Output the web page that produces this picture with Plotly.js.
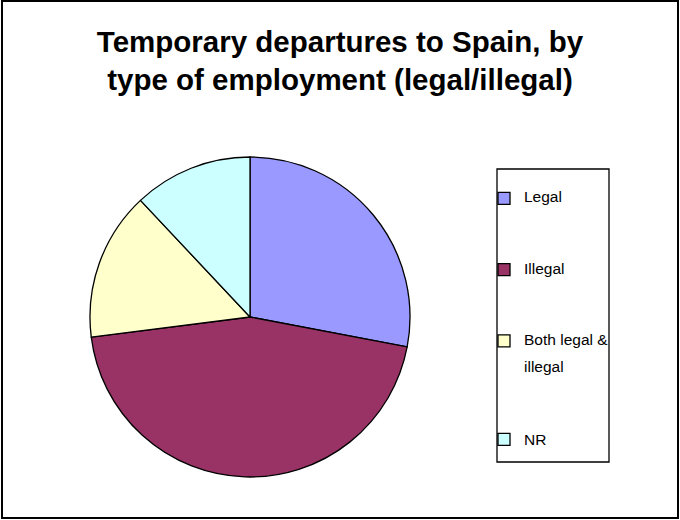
<!DOCTYPE html>
<html>
<head>
<meta charset="utf-8">
<script src="https://cdn.plot.ly/plotly-3.0.1.min.js"></script>
<style>html,body{margin:0;padding:0;background:#fff}#chart{width:680px;height:520px}</style>
</head>
<body>
<div id="chart"></div>
<script>
// Data (percent of respondents)
var categories = ['Legal', 'Illegal', 'Both legal & illegal', 'NR'];
var values = [28, 45, 15, 12];
var colors = ['#9999FF', '#993366', '#FFFFCC', '#CCFFFF'];
var legendLines = [['Legal'], ['Illegal'], ['Both legal &amp;', 'illegal'], ['NR']];

var W = 680, H = 520;
var NBSP = '\u00a0';
var TXT = 15.5;            // visible legend text size (px)
// legend entries are spaced with blank half-lines to match the reference spacing
function legendLabel(lines, isLast) {
  var parts = [];
  lines.forEach(function (ln, i) {
    if (i > 0) parts.push(NBSP);
    parts.push('<span style="font-size:' + TXT + 'px">' + ln + '</span>');
  });
  if (!isLast) { for (var k = 0; k < 4; k++) parts.push(NBSP); }
  return parts.join('<br>');
}
var shownLabels = legendLines.map(function (l, i) { return legendLabel(l, i === legendLines.length - 1); });

var trace = {
  type: 'pie',
  labels: shownLabels,
  values: values,
  sort: false,
  direction: 'clockwise',
  rotation: 0,
  textinfo: 'none',
  hoverinfo: 'skip',
  marker: {colors: colors, line: {color: '#000000', width: 1.3}},
  domain: {x: [90 / W, 410 / W], y: [1 - 477 / H, 1 - 157 / H]}
};

var layout = {
  width: W, height: H,
  margin: {l: 0, r: 0, t: 0, b: 0},
  paper_bgcolor: '#ffffff',
  font: {family: 'Liberation Sans, Arial, sans-serif', color: '#000000'},
  title: {
    text: '<b>Temporary departures to Spain, by<br>type of employment (legal/illegal)</b>',
    font: {family: 'Liberation Sans, Arial, sans-serif', size: 29.5, color: '#000000'},
    x: 0.5, xanchor: 'center', xref: 'paper',
    y: 1 - 52 / H, yanchor: 'top', yref: 'paper'
  },
  showlegend: true,
  legend: {
    x: 484 / W, xanchor: 'left',
    y: 1 - 185 / H, yanchor: 'top',
    font: {family: 'Liberation Sans, Arial, sans-serif', size: 10.5, color: '#000000'},
    bgcolor: 'rgba(0,0,0,0)', borderwidth: 0,
    valign: 'top', traceorder: 'normal'
  },
  shapes: [
    {type: 'rect', xref: 'paper', yref: 'paper', x0: 2 / W, x1: 678 / W, y0: 1 - 518 / H, y1: 1 - 1 / H,
     line: {color: '#000000', width: 2}, fillcolor: 'rgba(0,0,0,0)', layer: 'below'},
    {type: 'rect', xref: 'paper', yref: 'paper', x0: 497 / W, x1: 609 / W, y0: 1 - 462 / H, y1: 1 - 169 / H,
     line: {color: '#000000', width: 1.3}, fillcolor: 'rgba(0,0,0,0)', layer: 'below'}
  ]
};

Plotly.newPlot('chart', [trace], layout, {staticPlot: true, displayModeBar: false});
</script>
</body>
</html>
